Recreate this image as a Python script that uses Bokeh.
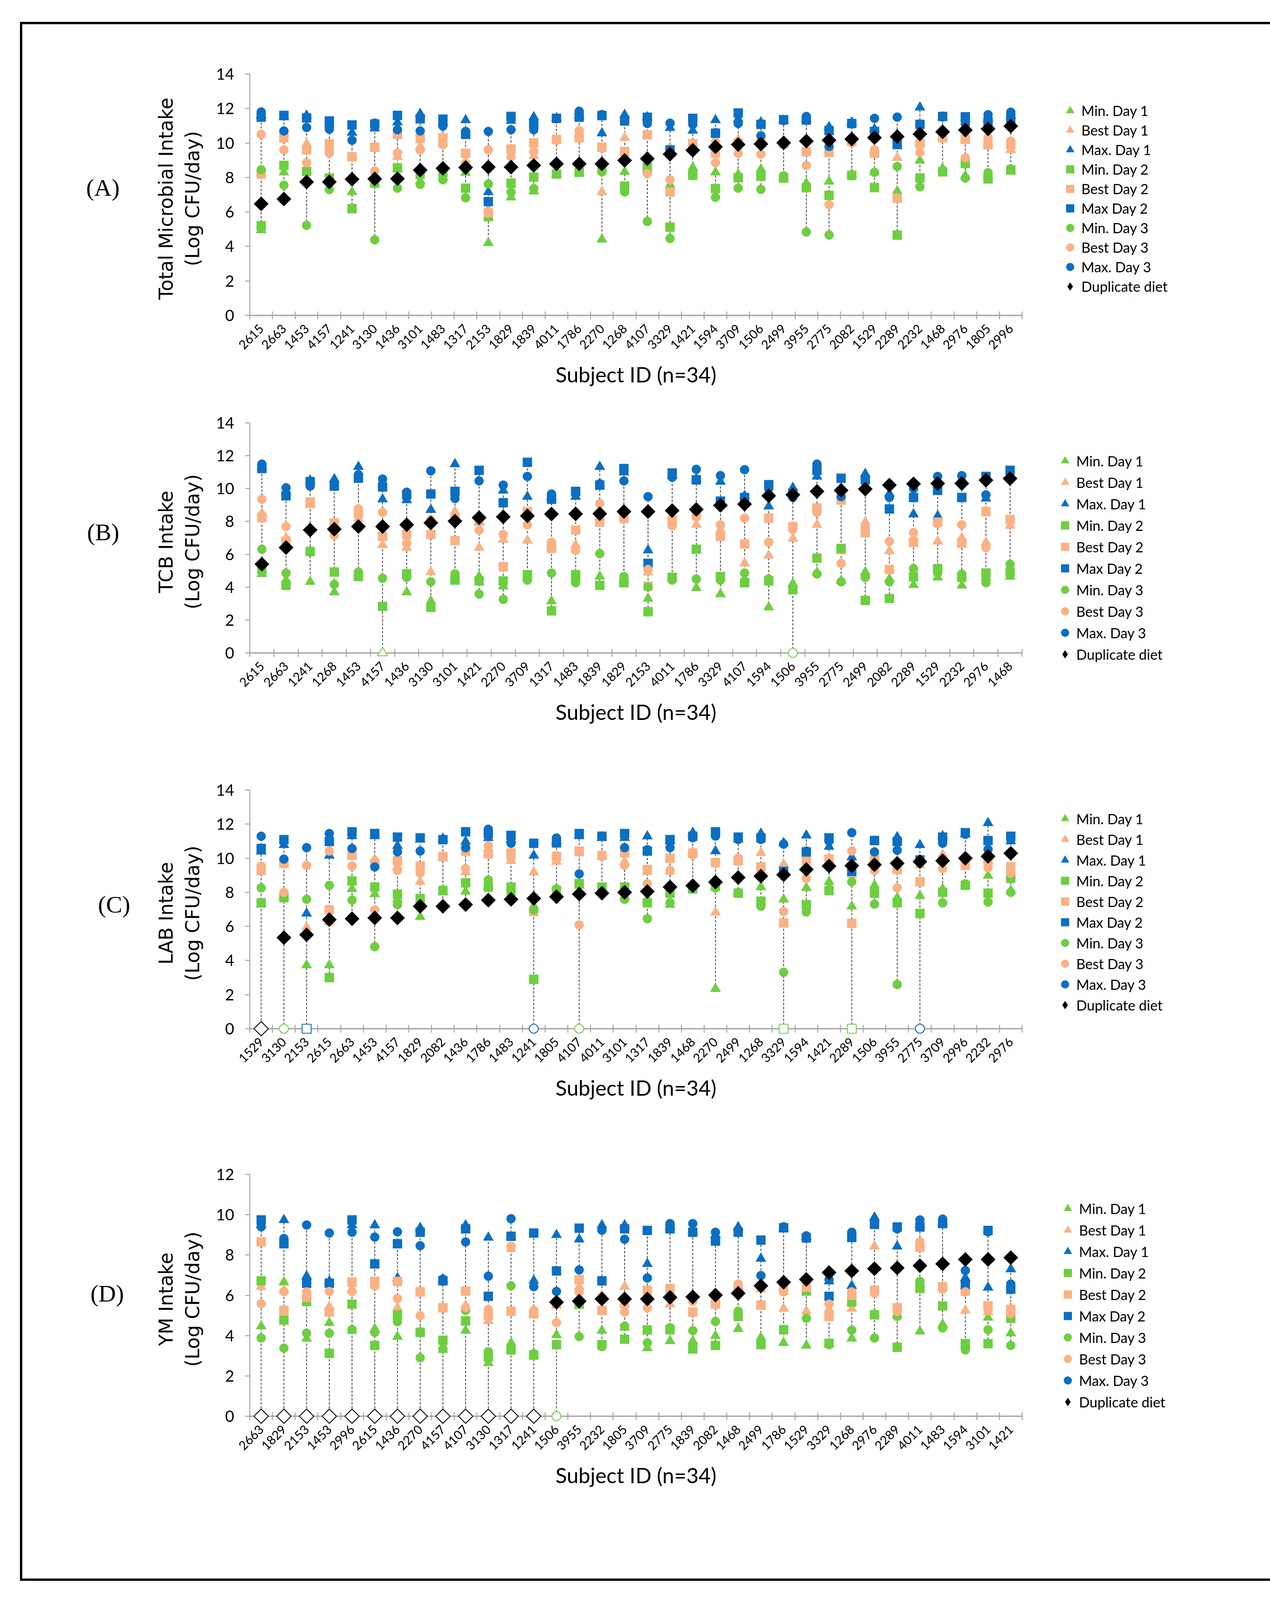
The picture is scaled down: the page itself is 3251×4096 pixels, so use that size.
import math
from bokeh.plotting import figure
from bokeh.layouts import column
from bokeh.models import Range1d, FixedTicker, Legend, LegendItem, Span, LinearAxis
from bokeh.embed import file_html
from bokeh.resources import INLINE

# ---------------- data ----------------
SERIES_NAMES = ["Min. Day 1", "Best Day 1", "Max. Day 1", "Min. Day 2", "Best Day 2",
                "Max Day 2", "Min. Day 3", "Best Day 3", "Max. Day 3", "Duplicate diet"]

# Panel A: Total Microbial Intake
a_ids = [2615, 2663, 1453, 4157, 1241, 3130, 1436, 3101, 1483, 1317, 2153, 1829, 1839, 4011, 1786, 2270, 1268,
         4107, 3329, 1421, 1594, 3709, 1506, 2499, 3955, 2775, 2082, 1529, 2289, 2232, 1468, 2976, 1805, 2996]
a_min1 = [4.95, 8.3, 8.4, 7.9, 7.16, 7.7, 8.5, 7.8, 8.0, 8.28, 4.2, 6.85, 7.2, 8.2, 8.3, 4.41, 8.33, 8.5, 7.57, 8.58, 8.3, 8.18, 8.48, 8.0, 7.67, 7.77, 8.2, 8.3, 7.21, 8.99, 8.53, 8.1, 8.1, 8.43]
a_best1 = [8.3, 10.2, 9.95, 9.7, 9.2, 9.7, 9.2, 9.8, 10.0, 8.9, 6.15, 8.8, 9.25, 10.2, 10.5, 7.16, 10.3, 10.4, 9.75, 9.9, 10.21, 10.2, 9.9, 9.9, 9.6, 9.6, 10.1, 9.6, 9.14, 10.0, 10.4, 10.3, 10.0, 9.6]
a_max1 = [11.6, 11.5, 11.6, 11.1, 10.6, 10.85, 11.2, 11.7, 11.2, 11.33, 7.16, 11.3, 11.5, 11.45, 11.6, 10.57, 11.64, 11.5, 10.88, 10.72, 11.33, 11.4, 11.2, 11.3, 11.4, 10.93, 11.2, 10.8, 10.5, 12.07, 11.5, 11.4, 11.4, 11.6]
a_min2 = [5.2, 8.7, 8.35, 7.97, 6.19, 7.67, 8.56, 8.18, 8.28, 7.38, 5.73, 7.67, 8.02, 8.2, 8.3, 8.5, 7.5, 8.58, 5.12, 8.13, 7.36, 7.99, 8.07, 7.97, 7.41, 6.96, 8.13, 7.41, 4.66, 7.97, 8.33, 8.81, 7.92, 8.43]
a_best2 = [8.2, 10.4, 9.6, 9.95, 9.2, 9.75, 10.5, 10.26, 10.3, 9.4, 5.94, 9.65, 10.0, 10.21, 10.3, 9.76, 9.5, 10.47, 7.16, 9.96, 9.4, 10.0, 10.0, 9.96, 9.5, 9.45, 10.1, 9.4, 6.8, 9.96, 10.3, 10.21, 9.9, 9.9]
a_max2 = [11.5, 11.6, 11.45, 11.28, 11.05, 11.1, 11.6, 11.4, 11.38, 10.5, 6.6, 11.54, 11.13, 11.43, 11.5, 11.59, 11.28, 11.49, 9.6, 11.43, 10.57, 11.74, 11.08, 11.35, 11.33, 10.72, 11.13, 10.67, 9.91, 11.08, 11.54, 11.52, 11.23, 11.43]
a_min3 = [8.45, 7.55, 5.22, 7.3, 7.9, 4.38, 7.38, 7.6, 7.87, 6.82, 7.62, 7.16, 7.36, 8.25, 8.4, 8.33, 7.16, 5.45, 4.46, 8.2, 6.85, 7.38, 7.31, 8.1, 4.84, 4.66, 8.1, 8.3, 8.64, 7.46, 8.4, 7.97, 8.28, 8.5]
a_best3 = [10.5, 9.6, 8.85, 9.4, 9.2, 8.38, 9.42, 9.6, 9.9, 8.84, 9.6, 9.2, 9.5, 10.15, 10.72, 9.7, 9.45, 8.23, 7.87, 10.0, 8.86, 9.4, 9.35, 9.95, 8.69, 6.43, 10.0, 9.6, 10.3, 9.45, 10.4, 9.14, 10.3, 10.11]
a_max3 = [11.8, 10.7, 10.9, 10.8, 10.16, 11.15, 10.77, 10.7, 10.98, 10.67, 10.67, 10.77, 10.77, 11.4, 11.84, 11.65, 11.3, 11.13, 11.15, 11.08, 10.6, 11.13, 10.42, 11.3, 11.54, 9.8, 11.1, 11.43, 11.5, 11.1, 11.5, 11.1, 11.64, 11.79]
a_dup = [6.47, 6.75, 7.74, 7.74, 7.9, 7.92, 7.93, 8.43, 8.53, 8.58, 8.6, 8.6, 8.7, 8.79, 8.79, 8.79, 8.99, 9.09, 9.35, 9.58, 9.78, 9.91, 9.94, 10.01, 10.11, 10.16, 10.23, 10.31, 10.37, 10.52, 10.65, 10.75, 10.82, 10.98]

# Panel B: TCB Intake
b_ids = [2615, 2663, 1241, 1268, 1453, 4157, 1436, 3130, 3101, 1421, 2270, 3709, 1317, 1483, 1839, 1829,
         2153, 4011, 1786, 3329, 4107, 1594, 1506, 3955, 2775, 2499, 2082, 2289, 1529, 2232, 2976, 1468]
b_min1 = [4.81, 4.43, 4.33, 3.69, 4.85, 0, 3.69, 3.15, 4.5, 4.65, 4.06, 4.6, 3.15, 4.6, 4.65, 4.4, 3.31, 4.5, 3.95, 3.58, 4.5, 2.78, 4.22, 4.9, 4.4, 4.92, 4.5, 4.14, 4.6, 4.11, 4.6, 4.65]
b_best1 = [8.5, 7.0, 9.0, 7.7, 8.18, 6.57, 6.41, 4.92, 8.6, 6.41, 6.89, 6.84, 6.5, 6.57, 8.3, 8.4, 4.9, 7.9, 7.8, 7.5, 5.45, 5.93, 6.95, 7.8, 6.2, 7.96, 6.2, 7.0, 6.79, 7.0, 6.73, 7.75]
b_max1 = [11.3, 9.8, 10.5, 10.58, 11.33, 9.35, 9.3, 8.71, 11.49, 7.96, 9.89, 9.51, 9.5, 9.51, 11.33, 11.0, 6.25, 10.8, 10.6, 10.42, 9.56, 8.92, 10.05, 10.74, 10.0, 10.9, 9.7, 8.44, 8.34, 10.6, 9.4, 10.8]
b_min2 = [5.08, 4.11, 6.17, 4.92, 4.65, 2.83, 4.81, 2.78, 4.43, 4.38, 4.38, 4.76, 2.56, 4.76, 4.11, 4.27, 2.51, 4.6, 6.31, 4.65, 4.27, 4.38, 3.85, 5.77, 6.36, 3.2, 3.31, 4.63, 5.13, 4.6, 4.86, 4.92]
b_best2 = [8.23, 6.8, 9.19, 7.91, 8.5, 7.1, 7.21, 7.21, 6.84, 8.07, 5.24, 8.6, 6.36, 7.48, 7.96, 8.18, 4.06, 8.07, 8.4, 7.1, 6.63, 8.2, 7.69, 8.82, 9.3, 7.32, 5.08, 6.73, 7.96, 6.68, 8.6, 8.12]
b_max2 = [11.22, 9.56, 10.42, 10.15, 10.63, 10.1, 9.62, 9.67, 9.83, 11.11, 9.14, 11.6, 9.35, 9.83, 10.21, 11.22, 5.45, 10.95, 10.53, 9.24, 9.46, 10.24, 9.73, 11.11, 10.63, 10.53, 8.76, 9.46, 9.89, 9.46, 10.74, 11.11]
b_min3 = [6.31, 4.86, 6.2, 4.17, 4.92, 4.54, 4.6, 4.33, 4.81, 3.58, 3.26, 4.43, 4.86, 4.27, 6.04, 4.65, 4.01, 4.43, 4.49, 4.43, 4.86, 4.5, 0, 4.81, 4.33, 4.6, 4.33, 5.13, 4.86, 4.8, 4.27, 5.4]
b_best3 = [9.35, 7.69, 9.1, 7.16, 8.76, 8.55, 6.68, 8.1, 8.3, 7.48, 7.21, 7.8, 6.73, 6.25, 9.08, 8.4, 5.08, 7.75, 8.28, 7.8, 8.2, 6.73, 7.5, 8.55, 5.45, 7.6, 6.79, 7.32, 7.85, 7.8, 6.41, 8.0]
b_max3 = [11.49, 10.05, 10.15, 10.3, 10.85, 10.58, 9.78, 11.08, 9.4, 10.47, 10.21, 10.74, 9.67, 9.7, 10.3, 10.47, 9.51, 10.69, 11.17, 10.79, 11.15, 10.0, 9.46, 11.49, 9.51, 10.45, 9.46, 10.0, 10.74, 10.79, 9.62, 11.0]
b_dup = [5.4, 6.41, 7.48, 7.53, 7.69, 7.69, 7.8, 7.91, 8.02, 8.23, 8.28, 8.34, 8.45, 8.46, 8.47, 8.6, 8.6, 8.66, 8.73, 8.98, 9.05, 9.56, 9.62, 9.83, 9.89, 9.97, 10.21, 10.29, 10.31, 10.31, 10.51, 10.61]

# Panel C: LAB Intake
c_ids = [1529, 3130, 2153, 2615, 2663, 1453, 4157, 1829, 2082, 1436, 1786, 1483, 1241, 1805, 4107, 4011, 3101,
         1317, 1839, 1468, 2270, 2499, 1268, 3329, 1594, 1421, 2289, 1506, 3955, 2775, 3709, 2996, 2232, 2976]
c_min1 = [7.3, 7.8, 3.73, 3.73, 8.2, 7.9, 7.6, 6.56, 8.0, 8.05, 8.4, 8.0, 7.2, 8.0, 8.4, 8.2, 7.8, 7.6, 7.28, 8.3, 2.34, 8.0, 8.31, 7.59, 8.26, 8.62, 7.18, 8.41, 7.69, 7.79, 8.2, 8.4, 8.98, 8.1]
c_best1 = [9.2, 9.8, 5.94, 6.25, 10.1, 9.95, 9.5, 8.62, 10.0, 9.18, 10.3, 9.85, 9.18, 9.8, 10.3, 10.1, 9.8, 9.2, 9.23, 10.37, 6.82, 9.9, 10.31, 9.65, 9.8, 9.9, 9.03, 9.8, 9.4, 9.6, 10.21, 9.49, 9.8, 9.0]
c_max1 = [10.4, 10.78, 6.76, 10.16, 11.3, 11.3, 10.73, 11.1, 11.15, 10.98, 11.19, 11.1, 10.16, 11.0, 11.3, 11.2, 11.2, 11.29, 11.0, 11.5, 10.42, 11.1, 11.45, 10.9, 11.34, 10.68, 10.06, 11.0, 11.24, 10.78, 11.3, 11.4, 12.07, 11.0]
c_min2 = [7.38, 7.69, 0, 3.0, 8.67, 8.31, 7.9, 7.64, 8.1, 8.56, 8.31, 8.31, 2.9, 8.1, 8.51, 8.31, 8.31, 7.38, 7.95, 8.2, 8.35, 7.95, 7.48, 0, 7.28, 8.1, 0, 7.95, 7.38, 6.76, 8.0, 8.41, 7.95, 8.82]
c_best2 = [9.4, 9.7, 0, 6.97, 10.3, 9.7, 9.85, 9.54, 10.1, 10.42, 10.26, 10.31, 6.87, 10.1, 10.42, 10.16, 10.31, 9.34, 10.0, 10.3, 9.75, 9.85, 9.49, 6.2, 10.0, 9.95, 6.18, 9.95, 9.34, 8.62, 9.9, 9.7, 9.9, 9.5]
c_max2 = [10.57, 11.09, 0, 10.98, 11.55, 11.45, 11.24, 11.19, 11.09, 11.55, 11.45, 11.34, 10.88, 10.9, 11.45, 11.29, 11.45, 10.42, 11.09, 11.29, 11.55, 11.24, 11.19, 9.23, 10.37, 11.19, 9.23, 11.04, 10.98, 9.9, 11.24, 11.5, 11.04, 11.29]
c_min3 = [8.26, 0, 7.59, 8.41, 7.54, 4.81, 7.28, 7.5, 8.15, 8.5, 8.72, 8.0, 6.97, 8.2, 0, 8.2, 7.59, 6.45, 7.4, 8.3, 8.26, 8.0, 7.18, 3.31, 6.85, 8.2, 8.62, 7.31, 2.59, 0, 7.38, 8.5, 7.43, 8.0]
c_best3 = [9.54, 8.0, 9.57, 10.42, 9.54, 6.97, 9.29, 9.13, 10.1, 9.39, 10.73, 10.0, 0, 10.16, 6.09, 10.1, 9.59, 8.51, 9.29, 10.2, 9.7, 10.0, 9.3, 6.87, 8.82, 9.9, 10.42, 9.29, 8.26, 0, 9.39, 9.8, 9.44, 9.13]
c_max3 = [11.29, 9.95, 10.62, 11.45, 10.57, 9.49, 10.37, 10.42, 11.1, 10.62, 11.7, 10.88, 0, 11.19, 9.08, 11.3, 10.62, 10.5, 10.62, 11.2, 11.3, 11.1, 11.1, 10.83, 10.42, 11.0, 11.5, 10.37, 10.47, 0, 10.88, 11.4, 10.52, 11.1]
c_dup = [0, 5.34, 5.51, 6.4, 6.45, 6.5, 6.5, 7.18, 7.18, 7.28, 7.54, 7.59, 7.64, 7.74, 7.9, 7.95, 8.0, 8.05, 8.31, 8.39, 8.6, 8.87, 8.95, 9.03, 9.34, 9.54, 9.56, 9.62, 9.7, 9.8, 9.85, 10.0, 10.11, 10.29]

# Panel D: YM Intake
d_ids = [2663, 1829, 2153, 1453, 2996, 2615, 1436, 2270, 4157, 4107, 3130, 1317, 1241, 1506, 3955, 2232, 1805,
         3709, 2775, 1839, 2082, 1468, 2499, 1786, 1529, 3329, 1268, 2976, 2289, 4011, 1483, 1594, 3101, 1421]
d_min1 = [4.47, 6.65, 3.86, 4.64, 4.25, 4.34, 3.95, 4.2, 3.3, 4.25, 2.64, 3.64, 3.0, 4.03, 5.5, 4.25, 4.4, 3.38, 3.73, 3.73, 3.99, 4.34, 3.9, 3.64, 3.51, 3.6, 3.86, 5.1, 5.0, 4.21, 4.56, 3.55, 4.9, 4.12]
d_best1 = [6.43, 6.25, 6.0, 5.43, 6.3, 6.5, 5.38, 6.1, 5.4, 5.5, 4.73, 8.3, 5.1, 5.5, 6.43, 6.0, 6.43, 5.9, 5.56, 5.8, 5.8, 6.4, 6.3, 5.34, 5.21, 5.3, 5.34, 8.43, 5.4, 8.5, 6.4, 5.25, 5.17, 5.4]
d_max1 = [9.5, 9.74, 6.95, 6.7, 9.48, 9.48, 6.86, 9.35, 6.8, 9.48, 8.87, 8.9, 6.73, 9.0, 8.78, 9.48, 9.48, 7.56, 9.4, 9.2, 9.0, 9.39, 7.82, 9.3, 8.9, 6.7, 6.47, 9.87, 8.43, 9.5, 9.6, 6.86, 6.39, 7.3]
d_min2 = [6.72, 4.77, 5.69, 3.12, 5.56, 3.51, 5.03, 4.16, 3.77, 4.73, 2.94, 3.29, 3.03, 3.55, 5.56, 3.55, 3.82, 4.28, 4.29, 3.34, 3.51, 4.95, 3.55, 4.29, 6.21, 3.62, 5.66, 5.03, 3.42, 6.34, 5.47, 3.6, 3.6, 4.86]
d_best2 = [8.65, 5.25, 5.9, 5.17, 6.65, 6.69, 6.69, 6.17, 5.38, 6.21, 5.0, 5.21, 5.08, 5.6, 6.78, 5.25, 5.6, 6.25, 6.34, 5.17, 5.56, 6.3, 5.51, 6.3, 6.4, 4.95, 6.0, 6.25, 5.38, 8.39, 6.43, 6.2, 5.47, 5.3]
d_max2 = [9.74, 8.56, 6.6, 6.6, 9.74, 7.56, 8.56, 9.13, 6.72, 9.3, 5.95, 8.93, 9.09, 7.21, 9.33, 6.72, 9.3, 9.22, 9.3, 9.13, 8.69, 9.13, 8.74, 9.35, 8.85, 5.95, 8.87, 9.52, 9.39, 9.39, 9.56, 6.52, 9.22, 6.3]
d_min3 = [3.88, 3.38, 4.12, 4.12, 4.3, 4.16, 4.69, 2.9, 3.34, 5.25, 3.2, 6.47, 3.1, 0, 3.95, 3.45, 4.47, 3.64, 4.4, 4.25, 4.7, 5.21, 3.6, 4.3, 4.86, 3.55, 4.27, 3.88, 4.95, 6.69, 4.38, 3.29, 4.29, 3.51]
d_best3 = [5.58, 6.19, 6.17, 6.19, 6.19, 6.47, 5.84, 4.99, 5.4, 5.4, 5.3, 8.43, 5.25, 4.64, 6.17, 5.9, 5.17, 5.38, 6.0, 5.7, 5.9, 6.56, 6.4, 6.17, 6.5, 5.56, 6.17, 6.1, 5.2, 8.65, 6.3, 6.17, 5.3, 5.08]
d_max3 = [9.4, 8.82, 9.49, 9.09, 9.13, 8.89, 9.15, 8.46, 6.8, 8.65, 6.95, 9.8, 6.43, 6.19, 7.26, 9.23, 8.78, 6.86, 9.56, 9.56, 9.13, 9.2, 6.98, 9.4, 8.95, 6.78, 9.13, 9.6, 9.3, 9.74, 9.78, 7.23, 9.15, 6.56]
d_dup = [0, 0, 0, 0, 0, 0, 0, 0, 0, 0, 0, 0, 0, 5.66, 5.71, 5.82, 5.82, 5.82, 5.9, 5.92, 6.01, 6.1, 6.47, 6.65, 6.79, 7.13, 7.21, 7.32, 7.36, 7.47, 7.56, 7.78, 7.78, 7.87]

# ---------------- style ----------------
GREEN = "#6dcf40"
PEACH = "#fbb183"
BLUE = "#0b6fc3"
BLACK = "#000000"
MARKERS = ["triangle", "triangle", "triangle", "square", "square", "square",
           "circle", "circle", "circle", "diamond"]
COLORS = [GREEN, PEACH, BLUE, GREEN, PEACH, BLUE, GREEN, PEACH, BLUE, BLACK]
SIZES = {"triangle": 26, "square": 23, "circle": 23, "diamond": 26}
AXIS_GRAY = "#a6a6a6"
INNER_W = 3143
INNER_X = 55
PAD = 20


def build(ids, series, ymax, ylabel, tag, g):
    n = len(ids)
    fw = g["fw"]
    ppu = (g["zero"] - g["top"]) / ymax
    fh = int(round(g["zero"] - g["top"] + PAD))
    ystart = -(fh - (g["zero"] - g["top"])) / ppu
    mleft = g["left"] - INNER_X
    mtop = g["top"] - g["ftop"]
    p = figure(frame_width=fw, frame_height=fh,
               x_range=Range1d(0, n), y_range=Range1d(ystart, ymax),
               output_backend="svg", toolbar_location=None,
               min_border_left=mleft, min_border_right=INNER_W - mleft - fw,
               min_border_top=mtop, min_border_bottom=g["fhtot"] - mtop - fh)
    p.outline_line_color = None
    p.xgrid.visible = False
    p.ygrid.visible = False
    p.background_fill_color = "white"
    p.border_fill_color = "white"

    # horizontal axis line at y = 0
    p.add_layout(Span(location=0, dimension="width", line_color=AXIS_GRAY,
                      line_width=3.5, level="underlay"))

    xs = [i + 0.5 for i in range(n)]
    lo = [min(s[i] for s in series) for i in range(n)]
    hi = [max(s[i] for s in series) for i in range(n)]
    p.segment(x0=xs, y0=lo, x1=xs, y1=hi, line_color="#3a3a3a", line_width=2, line_dash="6 4")

    items = []
    for k, vals in enumerate(series):
        mk = MARKERS[k]
        col = COLORS[k]
        size = SIZES[mk]
        fx = [x for x, v in zip(xs, vals) if v > 0]
        fy = [v for v in vals if v > 0]
        hx = [x for x, v in zip(xs, vals) if v <= 0]
        hy = [v for v in vals if v <= 0]
        if mk == "diamond":
            # narrow diamond used as the legend swatch; fully hidden under the wider
            # rotated-square diamonds drawn on top of it
            r_leg = p.scatter(fx, fy, marker="diamond", size=size,
                              fill_color=col, line_color=col)
            p.scatter(fx, fy, marker="square", size=size, angle=math.pi / 4,
                      fill_color=col, line_color=col, line_width=1)
            if hx:
                p.scatter(hx, hy, marker="square", size=size, angle=math.pi / 4,
                          fill_color="white", line_color=col, line_width=2.2)
            r = r_leg
        else:
            r = p.scatter(fx, fy, marker=mk, size=size,
                          fill_color=col, line_color=col, line_width=1)
            if hx:
                p.scatter(hx, hy, marker=mk, size=size,
                          fill_color="white", line_color=col, line_width=2.2)
        items.append(LegendItem(label=SERIES_NAMES[k], renderers=[r]))

    # x axis (categories); line drawn by the Span at y=0
    xa = p.xaxis[0]
    xa.ticker = FixedTicker(ticks=xs, minor_ticks=list(range(n + 1)))
    xa.major_label_overrides = {x: str(s) for x, s in zip(xs, ids)}
    xa.axis_line_color = None
    xa.major_tick_in = 0
    xa.major_tick_out = 0
    xa.minor_tick_in = PAD + 10
    xa.minor_tick_out = -(PAD - 10)
    xa.minor_tick_line_color = AXIS_GRAY
    xa.minor_tick_line_width = 2.5
    xa.major_label_orientation = math.pi / 4
    xa.major_label_text_font = "Lato"
    xa.major_label_text_font_size = "32px"
    xa.major_label_text_color = "black"
    xa.major_label_standoff = 8
    xa.axis_label = "Subject ID (n=34)"
    xa.axis_label_text_font = "Lato"
    xa.axis_label_text_font_size = "54px"
    xa.axis_label_text_font_style = "normal"
    xa.axis_label_text_color = "black"
    xa.axis_label_standoff = g["xstand"]

    # y axis
    ya = p.yaxis[0]
    ya.ticker = FixedTicker(ticks=list(range(0, ymax + 1, 2)), minor_ticks=[])
    ya.bounds = (0, ymax)
    ya.axis_line_color = AXIS_GRAY
    ya.axis_line_width = 2.5
    ya.major_tick_line_color = AXIS_GRAY
    ya.major_tick_line_width = 2.5
    ya.major_tick_in = 0
    ya.major_tick_out = 12
    ya.minor_tick_line_color = None
    ya.major_label_text_font = "Lato"
    ya.major_label_text_font_size = "40px"
    ya.major_label_text_color = "black"
    ya.major_label_standoff = 28
    ya.axis_label = ylabel
    ya.axis_label_text_font = "DejaVu Sans"
    ya.axis_label_text_font_size = "49px"
    ya.axis_label_text_font_style = "normal"
    ya.axis_label_text_color = "black"
    ya.axis_label_text_line_height = 1.2
    ya.axis_label_standoff = 28

    # panel tag "(A)" etc.: an outer left axis carrying one horizontal tick label
    ty = (g["zero"] - g["tagy"]) / ppu
    tag_axis = LinearAxis(ticker=FixedTicker(ticks=[ty], minor_ticks=[]),
                          major_label_overrides={ty: tag},
                          axis_line_color=None, major_tick_line_color=None,
                          minor_tick_line_color=None, major_tick_in=0, major_tick_out=0,
                          major_label_standoff=g["tagstand"],
                          major_label_text_font="Liberation Serif",
                          major_label_text_font_size="62px",
                          major_label_text_color="black")
    p.add_layout(tag_axis, "left")

    # series legend, in the right-hand panel
    row = g["lrow"]
    gw = 50
    ltop = g["lfirst"] - row / 2.0
    lbottom = ltop + 10 * row
    frame_bottom = g["top"] + fh
    frame_right = g["left"] + fw
    lx = g["lx"] - gw / 2.0 - frame_right
    ly = frame_bottom - lbottom
    leg = Legend(items=items, location=(lx, ly), orientation="vertical",
                 glyph_width=gw, glyph_height=int(round(row)), label_height=int(round(row)),
                 spacing=0, padding=0, margin=0, label_standoff=4,
                 label_text_font="Lato", label_text_font_size="36px", label_text_color="black",
                 border_line_color=None, background_fill_alpha=0)
    p.add_layout(leg, "right")
    return p


geo_a = dict(ftop=60, fhtot=930, top=187, zero=805, left=637, fw=1977,
             lfirst=280, lrow=50.1, lx=2737, tagy=477, tagstand=87, xstand=18)
geo_b = dict(ftop=990, fhtot=915, top=1079, zero=1668, left=637, fw=1977,
             lfirst=1173, lrow=55.4, lx=2724, tagy=1358, tagstand=88, xstand=18)
geo_c = dict(ftop=1905, fhtot=975, top=2019, zero=2630, left=637, fw=1977,
             lfirst=2089, lrow=53.4, lx=2724, tagy=2311, tagstand=60, xstand=18)
geo_d = dict(ftop=2880, fhtot=1158, top=3003, zero=3622, left=624, fw=1977,
             lfirst=3090, lrow=55.1, lx=2718, tagy=3307, tagstand=76, xstand=18)

p_a = build(a_ids, [a_min1, a_best1, a_max1, a_min2, a_best2, a_max2, a_min3, a_best3, a_max3, a_dup],
            14, "Total Microbial Intake\n(Log CFU/day)", "(A)", geo_a)
p_b = build(b_ids, [b_min1, b_best1, b_max1, b_min2, b_best2, b_max2, b_min3, b_best3, b_max3, b_dup],
            14, "TCB Intake\n(Log CFU/day)", "(B)", geo_b)
p_c = build(c_ids, [c_min1, c_best1, c_max1, c_min2, c_best2, c_max2, c_min3, c_best3, c_max3, c_dup],
            14, "LAB Intake\n(Log CFU/day)", "(C)", geo_c)
p_d = build(d_ids, [d_min1, d_best1, d_max1, d_min2, d_best2, d_max2, d_min3, d_best3, d_max3, d_dup],
            12, "YM Intake\n(Log CFU/day)", "(D)", geo_d)

layout = column(p_a, p_b, p_c, p_d, spacing=0,
                styles={"border": "6px solid black", "margin-left": "51px", "margin-top": "56px"})

open("out.html", "w").write(file_html(layout, INLINE, title="Microbial intake"))
